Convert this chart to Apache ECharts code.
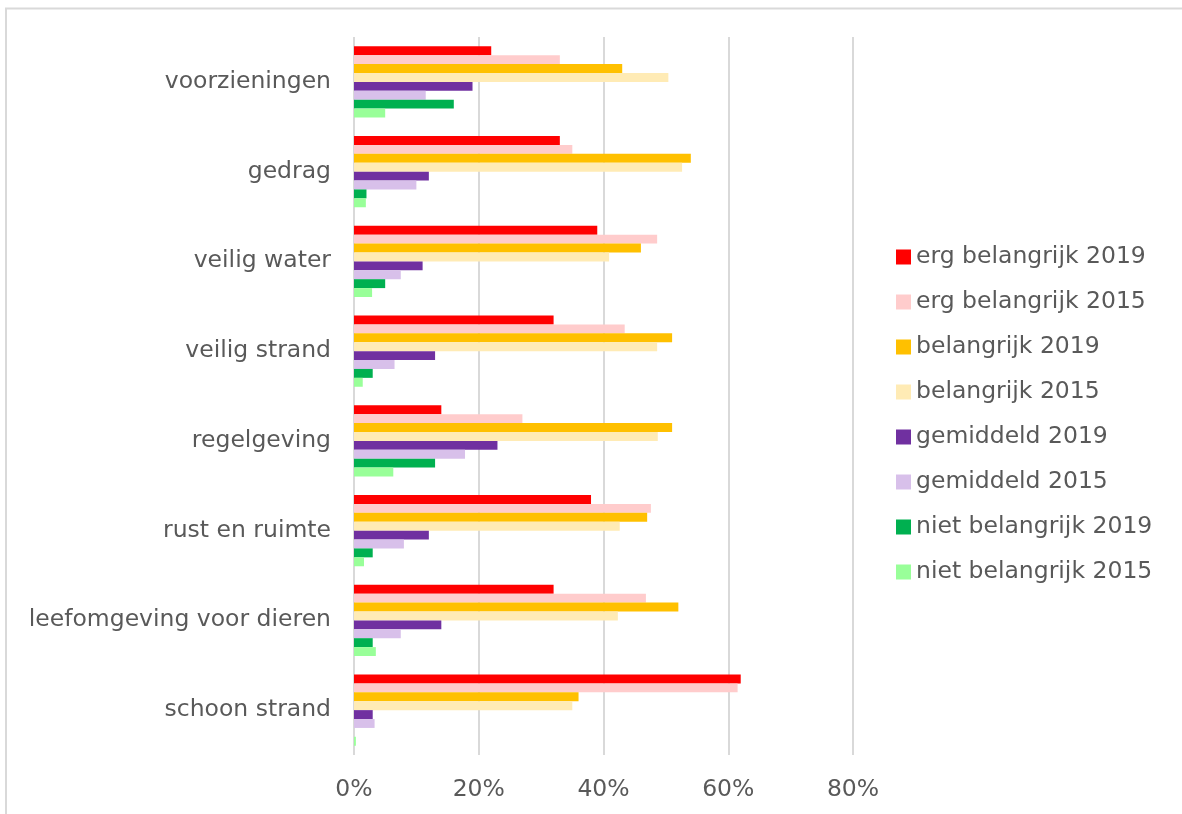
<!DOCTYPE html>
<html>
<head>
<meta charset="utf-8">
<script src="https://cdn.jsdelivr.net/npm/echarts@6/dist/echarts.min.js"></script>
<style>
  html, body { margin: 0; padding: 0; background: #ffffff; }
  #chart { width: 1182px; height: 814px; }
</style>
</head>
<body>
<div id="chart"></div>
<script>
// Categories, listed top to bottom
const categories = [
  'voorzieningen', 'gedrag', 'veilig water', 'veilig strand',
  'regelgeving', 'rust en ruimte', 'leefomgeving voor dieren', 'schoon strand'
];

// Share of respondents (%) per answer and survey year
const ergBelangrijk2019 = [22, 33, 39, 32, 14, 38, 32, 62];
const ergBelangrijk2015 = [33, 35, 48.6, 43.4, 27, 47.6, 46.8, 61.5];
const belangrijk2019 = [43, 54, 46, 51, 51, 47, 52, 36];
const belangrijk2015 = [50.4, 52.6, 40.9, 48.6, 48.7, 42.6, 42.3, 35];
const gemiddeld2019 = [19, 12, 11, 13, 23, 12, 14, 3];
const gemiddeld2015 = [11.5, 10, 7.5, 6.5, 17.8, 8, 7.5, 3.3];
const nietBelangrijk2019 = [16, 2, 5, 3, 13, 3, 3, 0];
const nietBelangrijk2015 = [5, 1.9, 2.9, 1.4, 6.3, 1.6, 3.5, 0.3];

const xTicks = [0, 20, 40, 60, 80];

const seriesDefs = [
  { name: 'erg belangrijk 2019', data: ergBelangrijk2019, color: '#FF0000' },
  { name: 'erg belangrijk 2015', data: ergBelangrijk2015, color: '#FFCCCC' },
  { name: 'belangrijk 2019', data: belangrijk2019, color: '#FFC000' },
  { name: 'belangrijk 2015', data: belangrijk2015, color: '#FFEBB5' },
  { name: 'gemiddeld 2019', data: gemiddeld2019, color: '#7030A0' },
  { name: 'gemiddeld 2015', data: gemiddeld2015, color: '#D8C0EA' },
  { name: 'niet belangrijk 2019', data: nietBelangrijk2019, color: '#00B050' },
  { name: 'niet belangrijk 2015', data: nietBelangrijk2015, color: '#99FF99' }
];

const FONT = 'DejaVu Sans';
const TEXT_COLOR = '#595959';
const GRID_COLOR = '#D9D9D9';

const chart = echarts.init(document.getElementById('chart'), null, { renderer: 'canvas' });

chart.setOption({
  backgroundColor: '#ffffff',
  animation: false,
  graphic: [{
    type: 'rect',
    shape: { x: 6, y: 8.5, width: 1220, height: 840 },
    style: { fill: 'none', stroke: GRID_COLOR, lineWidth: 2 },
    silent: true
  }],
  grid: { left: 354, right: 329, top: 37, bottom: 59, containLabel: false },
  legend: {
    orient: 'vertical',
    left: 891,
    top: 240,
    icon: 'rect',
    itemWidth: 15,
    itemHeight: 15,
    itemGap: 21,
    textStyle: { fontFamily: FONT, fontSize: 23.5, color: TEXT_COLOR, lineHeight: 24 },
    data: seriesDefs.map(s => s.name)
  },
  xAxis: {
    type: 'value',
    min: xTicks[0],
    max: xTicks[xTicks.length - 1],
    interval: xTicks[1] - xTicks[0],
    axisLine: { show: false },
    axisTick: { show: false },
    axisLabel: {
      margin: 23,
      fontFamily: FONT, fontSize: 23.5, color: TEXT_COLOR,
      formatter: '{value}%'
    },
    splitLine: { show: true, lineStyle: { color: GRID_COLOR, width: 2 } }
  },
  yAxis: {
    type: 'category',
    inverse: true,
    data: categories,
    axisLine: { show: false },
    axisTick: { show: false },
    axisLabel: { margin: 23, fontFamily: FONT, fontSize: 23.5, color: TEXT_COLOR }
  },
  series: seriesDefs.map(s => ({
    name: s.name,
    type: 'bar',
    data: s.data,
    barGap: '0%',
    barCategoryGap: '20.6%',
    itemStyle: { color: s.color },
    emphasis: { disabled: true }
  }))
});
</script>
</body>
</html>
